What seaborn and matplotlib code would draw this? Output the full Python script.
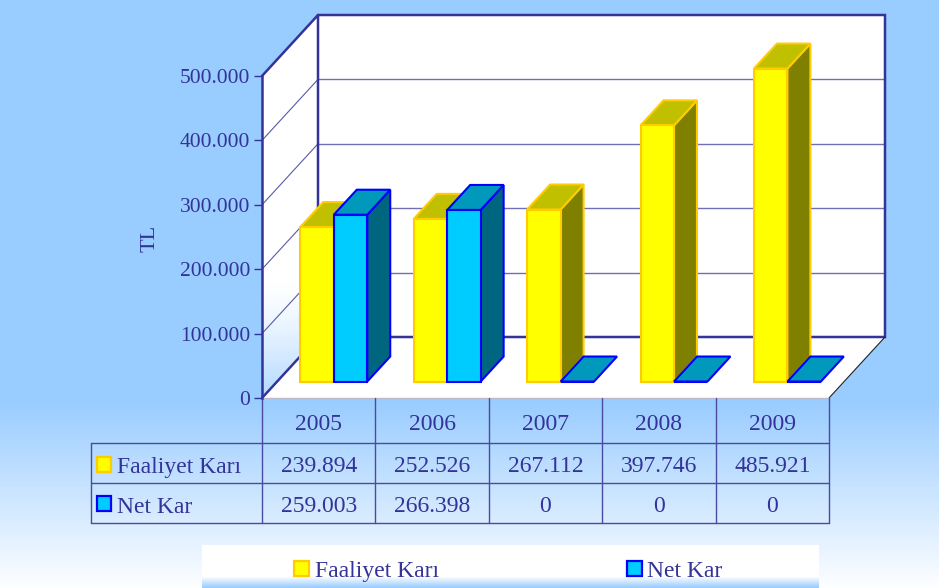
import numpy as np
import pandas as pd
import matplotlib
matplotlib.use("Agg")
import matplotlib.pyplot as plt
import matplotlib.transforms as mtransforms
from matplotlib.patches import Polygon, Rectangle
from matplotlib.colors import to_rgb
from matplotlib.ticker import FuncFormatter
import seaborn as sns

# ---- data ----
years = ["2005", "2006", "2007", "2008", "2009"]
faaliyet_kari = [239894, 252526, 267112, 397746, 485921]
net_kar = [259003, 266398, 0, 0, 0]
series_names = ["Faaliyet Karı", "Net Kar"]
y_ticks = [0, 100000, 200000, 300000, 400000, 500000]
y_max = 500000

# ---- styling ----
NAVY = "#333399"
FRONT = {"Faaliyet Karı": "#FFFF00", "Net Kar": "#00CCFF"}
EDGE = {"Faaliyet Karı": "#FFCC00", "Net Kar": "#0000FF"}
TOP = {"Faaliyet Karı": "#C0C000", "Net Kar": "#0099BB"}
SIDE = {"Faaliyet Karı": "#808000", "Net Kar": "#006680"}
SKY = np.array(to_rgb("#99CCFF"))
WHITE = np.array([1.0, 1.0, 1.0])

sns.set_style("white")
plt.rcParams["font.family"] = ["Liberation Serif", "DejaVu Serif"]

W, H = 939, 588
fig = plt.figure(figsize=(W / 100, H / 100), dpi=100)


def fx(px):
    return px / W


def fy(py):
    return 1 - py / H


def fmt(v, _pos=None):
    return f"{int(round(v)):,}".replace(",", ".")


# ---- background gradient ----
bg = fig.add_axes([0, 0, 1, 1], zorder=-10)
t = np.clip((np.arange(H) - 400) / 190.0, 0, 1)
grad = SKY[None, :] * (1 - t[:, None]) + WHITE[None, :] * t[:, None]
bg.imshow(grad[:, None, :], aspect="auto", extent=[0, 1, 0, 1])
bg.set_axis_off()

# ---- main axes: front plane of the chart box ----
X0, X1, Y_TOP, Y_BOT = 262, 829, 76, 398
ax = fig.add_axes([fx(X0), fy(Y_BOT), (X1 - X0) / W, (Y_BOT - Y_TOP) / H])
ax.set_facecolor("none")

df = pd.DataFrame({
    "Yıl": years * 2,
    "Seri": [series_names[0]] * len(years) + [series_names[1]] * len(years),
    "Değer": faaliyet_kari + net_kar,
})
sns.barplot(data=df, x="Yıl", y="Değer", hue="Seri", order=years,
            hue_order=series_names,
            palette=[FRONT[s] for s in series_names], saturation=1,
            width=0.59, errorbar=None, legend=False, ax=ax, linewidth=1.5)
bars = [p for p in ax.patches if isinstance(p, Rectangle)]

ax.set_xlim(-0.5, len(years) - 0.5)
ax.set_ylim(0, y_max)
ax.set_xlabel("")
ax.set_ylabel("")

# depth of the box in pixels, converted to data units
px_per_cat = (X1 - X0) / len(years)
px_per_val = (Y_BOT - Y_TOP) / y_max
DEPTH_PX = (56, 61)
ddx = DEPTH_PX[0] / px_per_cat
ddy = DEPTH_PX[1] / px_per_val
T0, T1 = 0.27, 0.68  # front and back of the bars inside the box
xl, xr = -0.5, len(years) - 0.5


def P(x, v, d):
    return (x + d * ddx, v + d * ddy)


# walls and floor
left_wall = Polygon([P(xl, 0, 0), P(xl, y_max, 0), P(xl, y_max, 1), P(xl, 0, 1)],
                    closed=True, facecolor="white", edgecolor="none",
                    zorder=0.5, clip_on=False)
back_wall = Polygon([P(xl, 0, 1), P(xr, 0, 1), P(xr, y_max, 1), P(xl, y_max, 1)],
                    closed=True, facecolor="white", edgecolor="none",
                    zorder=0.5, clip_on=False)
floor = Polygon([P(xl, 0, 0), P(xr, 0, 0), P(xr, 0, 1), P(xl, 0, 1)],
                closed=True, facecolor="white", edgecolor="none",
                zorder=0.5, clip_on=False)
for p in (left_wall, back_wall, floor):
    ax.add_patch(p)

# soft blue shading on the lower part of the side wall
ny, nx = 300, 2
up = (1 - np.arange(ny) / (ny - 1))[:, None] * (Y_BOT - Y_TOP + DEPTH_PX[1]) \
    + np.zeros((1, nx))
b = np.clip(1 - up / 115.0, 0, 1) ** 1.3 * 0.75
shade = WHITE[None, None, :] * (1 - b[..., None]) + SKY[None, None, :] * b[..., None]
im = ax.imshow(shade, aspect="auto", extent=[xl, xl + ddx, 0, y_max + ddy],
               zorder=0.6)
im.set_clip_path(left_wall)
ax.set_xlim(-0.5, len(years) - 0.5)
ax.set_ylim(0, y_max)

# grid lines on back and side walls
for v in y_ticks[1:-1]:
    (a, c), (b2, d2) = P(xl, v, 1), P(xr, v, 1)
    ax.plot([a, b2], [c, d2], color="#6f6fb5", lw=1, zorder=0.8, clip_on=False)
    (a, c), (b2, d2) = P(xl, v, 0), P(xl, v, 1)
    ax.plot([a, b2], [c, d2], color="#5a5aa8", lw=0.8, zorder=0.8, clip_on=False)

# box outline
outline = [P(xl, y_max, 0), P(xl, y_max, 1), P(xr, y_max, 1), P(xr, 0, 1),
           P(xl, 0, 1), P(xl, y_max, 1)]
ax.plot([q[0] for q in outline], [q[1] for q in outline], color=NAVY, lw=1.8,
        zorder=1, clip_on=False, solid_joinstyle="miter")
ax.plot(*zip(P(xl, 0, 0), P(xl, 0, 1)), color=NAVY, lw=1.8, zorder=1, clip_on=False)
ax.plot(*zip(P(xr, 0, 0), P(xr, 0, 1)), color="#222222", lw=0.8, zorder=1, clip_on=False)
ax.plot(*zip(P(xl, 0, 0), P(xr, 0, 0)), color="#bbbbcc", lw=1, zorder=1, clip_on=False)

# ---- 3D bars built from the seaborn rectangles ----
offset = ax.transData + mtransforms.ScaledTranslation(
    T0 * DEPTH_PX[0] / 100, T0 * DEPTH_PX[1] / 100, fig.dpi_scale_trans)
dt = T1 - T0
for bar in bars:
    fc = np.array(bar.get_facecolor()[:3])
    s = min(series_names, key=lambda n: np.abs(fc - np.array(to_rgb(FRONT[n]))).sum())
    z = 2 if s == series_names[0] else 3
    x0, w, h = bar.get_x(), bar.get_width(), bar.get_height()
    bar.set_transform(offset)
    bar.set_clip_on(False)
    bar.set_edgecolor(EDGE[s])
    bar.set_linewidth(1.5)
    bar.set_zorder(z + 0.2)
    ex, ey = dt * ddx, dt * ddy
    top = Polygon([(x0, h), (x0 + w, h), (x0 + w + ex, h + ey), (x0 + ex, h + ey)],
                  closed=True, facecolor=TOP[s], edgecolor=EDGE[s], lw=1.5,
                  transform=offset, clip_on=False, zorder=z + 0.1,
                  joinstyle="miter")
    ax.add_patch(top)
    if h > 0:
        side = Polygon([(x0 + w, 0), (x0 + w, h), (x0 + w + ex, h + ey),
                        (x0 + w + ex, ey)],
                       closed=True, facecolor=SIDE[s], edgecolor=EDGE[s], lw=1.5,
                       transform=offset, clip_on=False, zorder=z,
                       joinstyle="miter")
        ax.add_patch(side)

# ---- axis styling ----
for name, sp in ax.spines.items():
    sp.set_visible(name == "left")
ax.spines["left"].set_color(NAVY)
ax.spines["left"].set_linewidth(1.8)
ax.spines["left"].set_zorder(1.5)
ax.set_yticks(y_ticks)
ax.yaxis.set_major_formatter(FuncFormatter(fmt))
ax.tick_params(axis="y", left=True, length=5.5, width=1, color=NAVY,
               labelcolor=NAVY, labelsize=15.5, pad=3, direction="out")
ax.tick_params(axis="x", bottom=False, labelbottom=False)
ax.grid(False)

fig.text(fx(150), fy(238), "TL", rotation=90, ha="center", va="center",
         fontsize=16, color=NAVY)

# ---- data table under the chart ----
tb = mtransforms.blended_transform_factory(ax.transData, ax.transAxes)


def ay(py):
    return (Y_BOT - py) / (Y_BOT - Y_TOP)


x_lab = xl + (91 - X0) / px_per_cat
rows_y = [ay(443), ay(483), ay(523)]
line_kw = dict(transform=tb, clip_on=False, color="#4a4aa5", lw=1, zorder=1)
for i in range(len(years) + 1):
    ax.plot([xl + i, xl + i], [0, rows_y[-1]], **line_kw)
ax.plot([x_lab, x_lab], [rows_y[0], rows_y[-1]], **line_kw)
for yy in rows_y:
    ax.plot([x_lab, xr], [yy, yy], **line_kw)

txt_kw = dict(transform=tb, ha="center", va="baseline", fontsize=17, color=NAVY)
for i, yr in enumerate(years):
    ax.text(i, ay(430), yr, **txt_kw)
    ax.text(i, ay(472), fmt(faaliyet_kari[i]), **txt_kw)
    ax.text(i, ay(512), fmt(net_kar[i]), **txt_kw)

for s, y_box, y_base in ((series_names[0], 457, 473), (series_names[1], 496, 513)):
    fig.add_artist(Rectangle((fx(97), fy(y_box + 15)), 14 / W, 15 / H,
                             transform=fig.transFigure, facecolor=FRONT[s],
                             edgecolor=EDGE[s], lw=1.6))
    fig.text(fx(117), fy(y_base), s, ha="left", va="baseline", fontsize=17,
             color=NAVY)

# ---- legend strip ----
lg = fig.add_axes([fx(202), fy(588), (819 - 202) / W, 43 / H], zorder=1)
lt = np.clip((np.arange(43) - 31) / 11.0, 0, 1)
lgrad = WHITE[None, :] * (1 - lt[:, None]) + SKY[None, :] * lt[:, None]
lg.imshow(lgrad[:, None, :], aspect="auto", extent=[0, 1, 0, 1])
lg.set_axis_off()
for s, xm, xt in ((series_names[0], 294, 315), (series_names[1], 627, 647)):
    fig.add_artist(Rectangle((fx(xm), fy(576)), 15 / W, 15 / H,
                             transform=fig.transFigure, facecolor=FRONT[s],
                             edgecolor=EDGE[s], lw=1.6, zorder=5))
    fig.text(fx(xt), fy(577), s, ha="left", va="baseline", fontsize=17,
             color=NAVY, zorder=5)

fig.savefig("out.png", dpi=100)
